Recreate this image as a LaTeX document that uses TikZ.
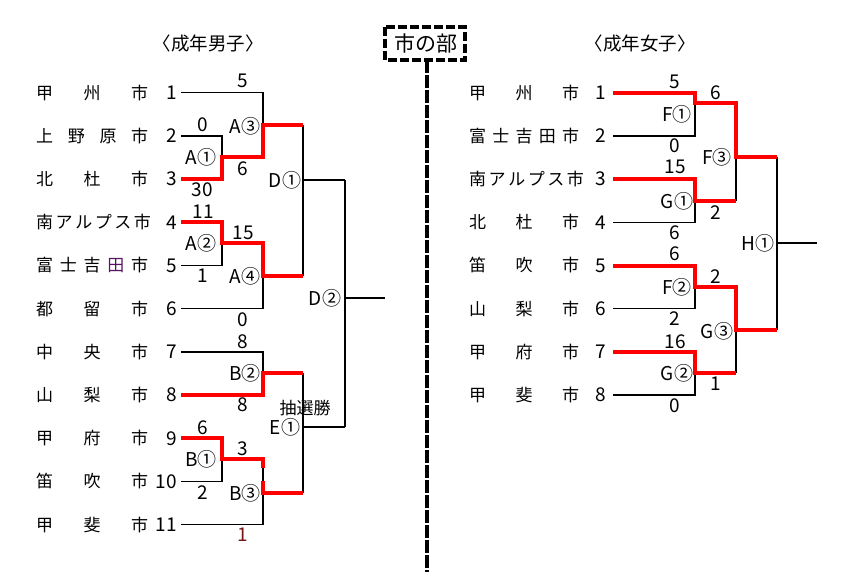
\documentclass[tikz,border=0pt]{standalone}
\usepackage{fontspec}
\setmainfont{Noto Sans CJK JP}
\definecolor{tapurple}{RGB}{90,20,100}
\definecolor{tamaroon}{RGB}{120,20,20}
\tikzset{
  win/.style={red, line width=4pt, line join=miter},
  lose/.style={black, line width=1.3pt},
  boxline/.style={black, line width=3.5pt, dash pattern=on 9pt off 3pt},
  team/.style={font=\fontsize{17}{19}\selectfont, inner sep=0pt, anchor=west},
  num/.style={font=\fontsize{19}{21}\selectfont, inner sep=0pt, anchor=east},
  score/.style={font=\fontsize{19}{21}\selectfont, inner sep=0pt},
  title/.style={font=\fontsize{18.5}{20}\selectfont, inner sep=0pt},
}

\begin{document}
\begin{tikzpicture}[x=1pt,y=-1pt]
			%%%%% START %%%%%
			\useasboundingbox (0,0) rectangle (866,572);
			
			\node[title] (tmen) at (208,43) {〈成年男子〉};
			\node[title] (twomen) at (640,43) {〈成年女子〉};
			
			% center box
			\node[font=\fontsize{21}{23}\selectfont, inner sep=0pt] (bu) at (426,44) {市の部};
			\draw[boxline] (385,27) rectangle (465,60);
			\draw[boxline, dash pattern=on 13pt off 2pt] (427,60) -- (427,572);
			
			% men teams
			\foreach \nm/\k [count=\i from 0] in {甲 州 市/1, 上 野 原 市/2, 北 杜 市/3, 南 ア ル プ ス 市/4, 富 士 吉 \textcolor{tapurple}{田} 市/5, 都 留 市/6, 中 央 市/7, 山 梨 市/8, 甲 府 市/9, 笛 吹 市/10, 甲 斐 市/11} {
				\node[team] (m\k) at (36,92.7+43.2*\i) {\makebox[112pt][s]{\nm}};
				\node[num] (mn\k) at (177,92.7+43.2*\i) {\k};
			}
			
			% women teams
			\foreach \nm/\k [count=\i from 0] in {甲 州 市/1, 富 士 吉 田 市/2, 南 ア ル プ ス 市/3, 北 杜 市/4, 笛 吹 市/5, 山 梨 市/6, 甲 府 市/7, 甲 斐 市/8} {
				\node[team] (w\k) at (469,92.7+43.2*\i) {\makebox[110pt][s]{\nm}};
				\node[num] (wn\k) at (606,92.7+43.2*\i) {\k};
			}
			
			% men bracket
			\draw[lose] (181,135.9) -| (222,157);
			\draw[lose] (181,92.7) -| (263,125);
			\draw[lose] (181,265.5) -| (222,243);
			\draw[lose] (181,308.7) -| (263,276);
			\draw[lose] (303,125) -- (303,276);
			\draw[lose] (303,180) -- (345,180);
			\draw[lose] (345,180) -- (345,427);
			\draw[lose] (345,298) -- (385,298);
			\draw[lose] (181,351.9) -| (263,373);
			\draw[lose] (181,481.5) -| (222,459);
			\draw[lose] (181,524.7) -| (263,459);
			\draw[lose] (303,373) -- (303,493);
			\draw[lose] (303,427) -- (345,427);
			
			\draw[win] (181,179.1) -| (222,157) -| (263,125) -- (303,125);
			\draw[win] (181,222.3) -| (222,243) -| (263,276) -- (303,276);
			\draw[win] (181,395.1) -| (263,373) -- (303,373);
			\draw[win] (181,438.3) -| (222,459) -| (263,468);
			\draw[win] (263,481) |- (303,493);
			
			% men scores
			\node[score] (s1) at (243,81) {5};
			\node[score] (s2) at (203,125) {0};
			\node[score] (s3) at (243,169) {6};
			\node[score] (s4) at (202,190) {30};
			\node[score] (s5) at (203,212) {11};
			\node[score] (s6) at (243,233) {15};
			\node[score] (s7) at (203,276) {1};
			\node[score] (s8) at (243,320) {0};
			\node[score] (s9) at (243,342) {8};
			\node[score] (s10) at (243,405) {8};
			\node[score] (s11) at (203,428) {6};
			\node[score] (s12) at (243,449) {3};
			\node[score] (s13) at (203,493) {2};
			\node[score, tamaroon] (s14) at (243,535) {1};
			
			\node[score] (a1) at (201,157) {A①};
			\node[score] (a2) at (201,243) {A②};
			\node[score] (a3) at (245,126) {A③};
			\node[score] (a4) at (245,276) {A④};
			\node[score] (b1) at (201,459) {B①};
			\node[score] (b2) at (245,373) {B②};
			\node[score] (b3) at (245,493) {B③};
			\node[score] (d1) at (285,180) {D①};
			\node[score] (d2) at (325,298) {D②};
			\node[score] (e1) at (285,427) {E①};
			\node[score, font=\fontsize{17}{19}\selectfont] (lot) at (305,408) {抽選勝};
			
			% women bracket
			\draw[lose] (613,135.9) -| (695,103);
			\draw[lose] (613,222.3) -| (695,201);
			\draw[lose] (736,157) -- (736,201);
			\draw[lose] (777,157) -- (777,330);
			\draw[lose] (777,243) -- (817,243);
			\draw[lose] (613,308.7) -| (695,287);
			\draw[lose] (613,395.1) -| (695,373);
			\draw[lose] (736,330) -- (736,373);
			
			\draw[win] (613,92.7) -| (695,103) -| (736,157) -- (777,157);
			\draw[win] (613,179.1) -| (695,201) -- (736,201);
			\draw[win] (613,265.5) -| (695,287) -| (736,330) -- (777,330);
			\draw[win] (613,351.9) -| (695,373) -- (736,373);
			
			% women scores
			\node[score] (ws1) at (675,82) {5};
			\node[score] (ws2) at (675,146) {0};
			\node[score] (ws3) at (716,93) {6};
			\node[score] (ws4) at (675,167) {15};
			\node[score] (ws5) at (716,213) {2};
			\node[score] (ws6) at (675,233) {6};
			\node[score] (ws7) at (675,254) {6};
			\node[score] (ws8) at (716,277) {2};
			\node[score] (ws9) at (675,319) {2};
			\node[score] (ws10) at (675,342) {16};
			\node[score] (ws11) at (716,384) {1};
			\node[score] (ws12) at (675,406) {0};
			
			\node[score] (f1) at (677,114) {F①};
			\node[score] (f2) at (677,287) {F②};
			\node[score] (f3) at (717,157) {F③};
			\node[score] (g1) at (677,201) {G①};
			\node[score] (g2) at (677,373) {G②};
			\node[score] (g3) at (717,331) {G③};
			\node[score] (h1) at (758,243) {H①};
			
			%%%%% END %%%%%
\end{tikzpicture}
\end{document}
